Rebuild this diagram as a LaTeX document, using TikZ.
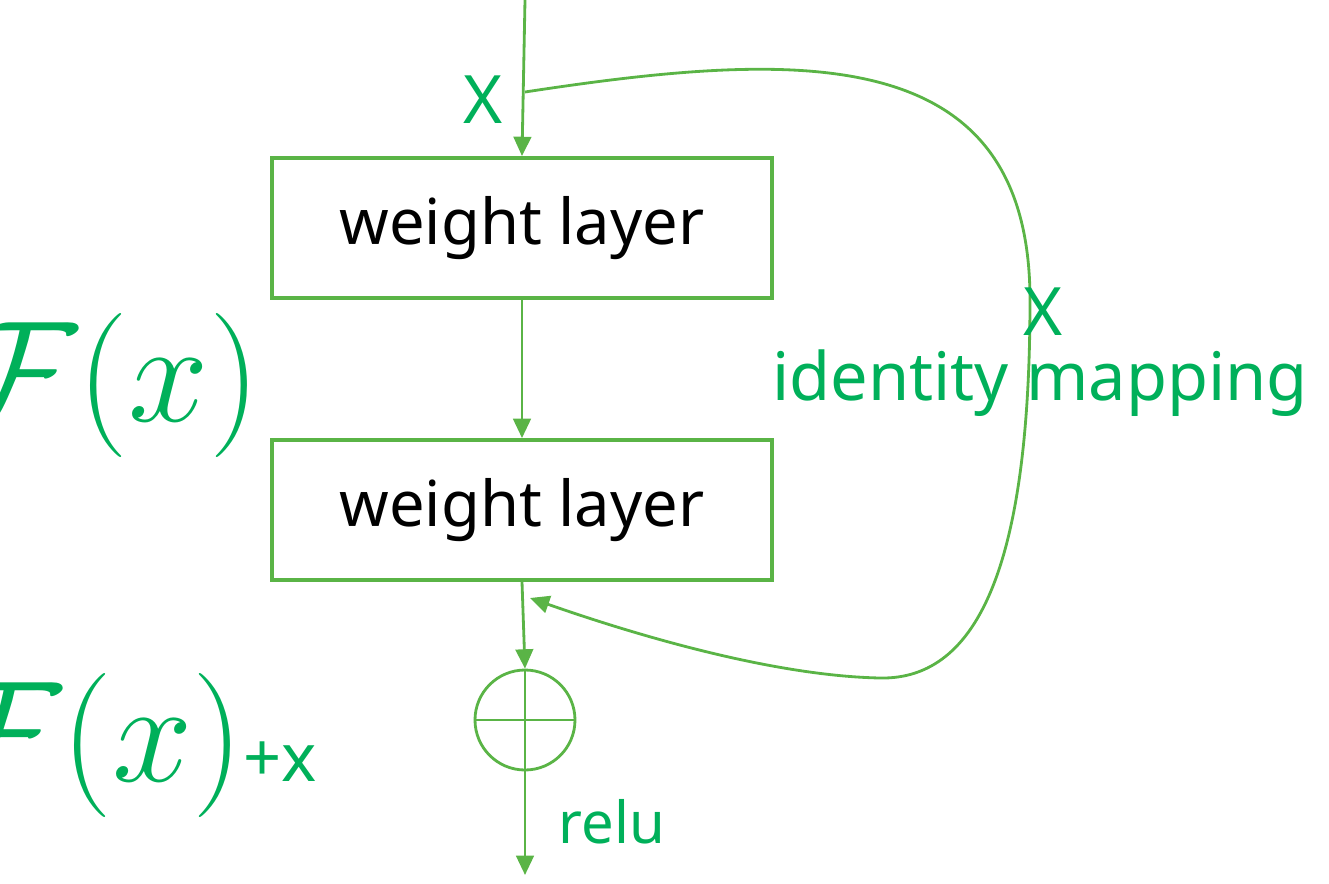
\documentclass[tikz,border=0pt]{standalone}
\usepackage{graphicx}
\usepackage{fontspec}
\setmainfont{Noto Sans}
\usetikzlibrary{arrows.meta}
\definecolor{linegreen}{RGB}{90,180,70}
\definecolor{textgreen}{RGB}{0,176,90}
\newcommand{\bigF}{\scalebox{3.3}{$\mathcal{F}(x)$}}
\tikzset{
  layer/.style={draw=linegreen, line width=2.2pt, minimum width=500*0.02cm, minimum height=140*0.02cm, font=\fontsize{36}{40}\selectfont},
  lbl/.style={text=textgreen, font=\fontsize{38}{42}\selectfont, inner sep=0pt},
  flow/.style={draw=linegreen, line width=1.6pt, -{Triangle[width=10pt,length=11pt]}}
}
\begin{document}
\begin{tikzpicture}[x=0.02cm, y=-0.02cm]
\useasboundingbox (0,0) rectangle (1329,883);
% blocks
\node[layer] (w1) at (522,228) {weight layer};
\node[layer] (w2) at (522,510) {weight layer};
\node[draw=linegreen, line width=1.6pt, circle, minimum size=100*0.02cm, inner sep=0pt] (add) at (525,720) {};
\draw[linegreen, line width=1.4pt] (add.north) -- (add.south) (add.west) -- (add.east);
% points
\coordinate (top) at (525,0);
\coordinate (split) at (525,92);
\coordinate (join) at (530,598);
\coordinate (out) at (525,875);
% main path
\draw[flow] (top) -- (w1.north);
\draw[flow] (w1.south) -- (w2.north);
\draw[flow] (w2.south) -- (add.north);
\draw[flow] (add.south) -- (out);
% shortcut
\draw[flow] (split) .. controls (800,50) and (1030,40) .. (1030,300)
  .. controls (1030,560) and (980,680) .. (880,678)
  .. controls (780,676) and (650,640) .. (join);
% labels
\node[lbl] (xin) at (483,100) {X};
\node[lbl] (xid) at (1043,312) {X};
\node[lbl] (idm) at (1040,383) {identity mapping};
\node[lbl] (fx) at (110,385) {\bigF};
\node[lbl] (fxx) at (130,745) {\bigF+x};
\node[lbl, font=\fontsize{33}{36}\selectfont] (relu) at (612,822) {relu};
\end{tikzpicture}
\end{document}
